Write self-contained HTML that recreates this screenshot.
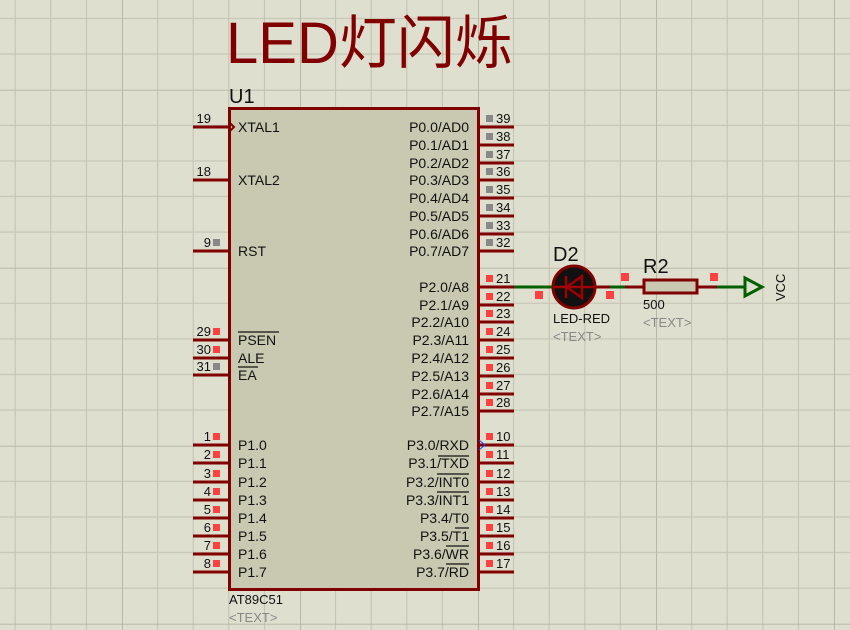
<!DOCTYPE html>
<html><head><meta charset="utf-8"><style>
html,body{margin:0;padding:0;background:#dfdfd0;}
svg{display:block;font-family:"Liberation Sans","Noto Sans CJK SC",sans-serif;}
.l{font-size:14px;fill:#111;}
.n{font-size:13px;fill:#111;}
.g{font-size:13px;fill:#888;}
</style></head><body>
<svg width="850" height="630" viewBox="0 0 850 630" xmlns="http://www.w3.org/2000/svg">
<defs>
<pattern id="gr" patternUnits="userSpaceOnUse" x="-56" y="-88.3" width="178" height="178">
<rect width="178" height="178" fill="#dfdfd0"/>
<g stroke="#c2c2b2" stroke-width="1">
<line x1="35.6" y1="0" x2="35.6" y2="178"/><line x1="71.2" y1="0" x2="71.2" y2="178"/><line x1="106.8" y1="0" x2="106.8" y2="178"/><line x1="142.4" y1="0" x2="142.4" y2="178"/>
<line y1="35.6" x1="0" y2="35.6" x2="178"/><line y1="71.2" x1="0" y2="71.2" x2="178"/><line y1="106.8" x1="0" y2="106.8" x2="178"/><line y1="142.4" x1="0" y2="142.4" x2="178"/>
</g>
<g stroke="#b8b8a6" stroke-width="2"><line x1="0" y1="0" x2="0" y2="178"/><line x1="0" y1="0" x2="178" y2="0"/></g>
</pattern>
</defs>
<rect width="850" height="630" fill="url(#gr)"/>

<text x="226" y="63" font-size="58" fill="#800000">LED灯闪烁</text>
<text x="229" y="103" font-size="20" fill="#111">U1</text>

<rect x="229.5" y="108.5" width="249" height="481" fill="#c9c9b2" stroke="#800000" stroke-width="3"/>

<g stroke="#800000" stroke-width="3">
<!-- left pins -->
<line x1="193" y1="127" x2="229" y2="127"/><line x1="193" y1="180" x2="229" y2="180"/><line x1="193" y1="251" x2="229" y2="251"/>
<line x1="193" y1="340" x2="229" y2="340"/><line x1="193" y1="358" x2="229" y2="358"/><line x1="193" y1="375" x2="229" y2="375"/>
<line x1="193" y1="445" x2="229" y2="445"/><line x1="193" y1="463" x2="229" y2="463"/><line x1="193" y1="482" x2="229" y2="482"/><line x1="193" y1="500" x2="229" y2="500"/><line x1="193" y1="518" x2="229" y2="518"/><line x1="193" y1="536" x2="229" y2="536"/><line x1="193" y1="554" x2="229" y2="554"/><line x1="193" y1="572" x2="229" y2="572"/>
<!-- right pins -->
<line x1="478" y1="127" x2="514" y2="127"/><line x1="478" y1="145" x2="514" y2="145"/><line x1="478" y1="163" x2="514" y2="163"/><line x1="478" y1="180" x2="514" y2="180"/><line x1="478" y1="198" x2="514" y2="198"/><line x1="478" y1="216" x2="514" y2="216"/><line x1="478" y1="234" x2="514" y2="234"/><line x1="478" y1="251" x2="514" y2="251"/>
<line x1="478" y1="287" x2="514" y2="287"/><line x1="478" y1="305" x2="514" y2="305"/><line x1="478" y1="322" x2="514" y2="322"/><line x1="478" y1="340" x2="514" y2="340"/><line x1="478" y1="358" x2="514" y2="358"/><line x1="478" y1="376" x2="514" y2="376"/><line x1="478" y1="394" x2="514" y2="394"/><line x1="478" y1="411" x2="514" y2="411"/>
<line x1="478" y1="445" x2="514" y2="445"/><line x1="478" y1="463" x2="514" y2="463"/><line x1="478" y1="482" x2="514" y2="482"/><line x1="478" y1="500" x2="514" y2="500"/><line x1="478" y1="518" x2="514" y2="518"/><line x1="478" y1="536" x2="514" y2="536"/><line x1="478" y1="554" x2="514" y2="554"/><line x1="478" y1="572" x2="514" y2="572"/>
</g>
<path d="M229 122 L234 127 L229 132" fill="none" stroke="#800000" stroke-width="2"/>
<path d="M479 440 L485 445 L479 450" fill="none" stroke="#2040ff" stroke-width="1"/>

<!-- left labels -->
<g class="l">
<text x="238" y="132">XTAL1</text><text x="238" y="185">XTAL2</text><text x="238" y="256">RST</text>
<text x="238" y="345">PSEN</text><text x="238" y="363">ALE</text><text x="238" y="380">EA</text>
<text x="238" y="450">P1.0</text><text x="238" y="468">P1.1</text><text x="238" y="487">P1.2</text><text x="238" y="505">P1.3</text><text x="238" y="523">P1.4</text><text x="238" y="541">P1.5</text><text x="238" y="559">P1.6</text><text x="238" y="577">P1.7</text>
</g>
<g stroke="#111" stroke-width="1.2"><line x1="238" y1="332" x2="279" y2="332"/><line x1="238" y1="367" x2="258" y2="367"/></g>

<!-- right labels -->
<g class="l" text-anchor="end">
<text x="469" y="132">P0.0/AD0</text><text x="469" y="150">P0.1/AD1</text><text x="469" y="168">P0.2/AD2</text><text x="469" y="185">P0.3/AD3</text><text x="469" y="203">P0.4/AD4</text><text x="469" y="221">P0.5/AD5</text><text x="469" y="239">P0.6/AD6</text><text x="469" y="256">P0.7/AD7</text>
<text x="469" y="292">P2.0/A8</text><text x="469" y="310">P2.1/A9</text><text x="469" y="327">P2.2/A10</text><text x="469" y="345">P2.3/A11</text><text x="469" y="363">P2.4/A12</text><text x="469" y="381">P2.5/A13</text><text x="469" y="399">P2.6/A14</text><text x="469" y="416">P2.7/A15</text>
<text x="469" y="450">P3.0/RXD</text><text x="469" y="468">P3.1/TXD</text><text x="469" y="487">P3.2/INT0</text><text x="469" y="505">P3.3/INT1</text><text x="469" y="523">P3.4/T0</text><text x="469" y="541">P3.5/T1</text><text x="469" y="559">P3.6/WR</text><text x="469" y="577">P3.7/RD</text>
</g>
<g stroke="#111" stroke-width="1.2">
<line x1="438" y1="456" x2="469" y2="456"/><line x1="437" y1="474" x2="469" y2="474"/><line x1="437" y1="492" x2="469" y2="492"/><line x1="455" y1="528" x2="469" y2="528"/><line x1="446" y1="546" x2="469" y2="546"/><line x1="446" y1="564" x2="469" y2="564"/>
</g>

<!-- left pin numbers -->
<g class="n" text-anchor="end">
<text x="211" y="123">19</text><text x="211" y="176">18</text><text x="211" y="247">9</text>
<text x="211" y="336">29</text><text x="211" y="354">30</text><text x="211" y="371">31</text>
<text x="211" y="441">1</text><text x="211" y="459">2</text><text x="211" y="478">3</text><text x="211" y="496">4</text><text x="211" y="514">5</text><text x="211" y="532">6</text><text x="211" y="550">7</text><text x="211" y="568">8</text>
</g>
<g fill="#888"><rect x="213" y="239" width="7" height="7"/><rect x="213" y="363" width="7" height="7"/></g>
<g fill="#ff4040">
<rect x="213" y="328" width="7" height="7"/><rect x="213" y="346" width="7" height="7"/>
<rect x="213" y="433" width="7" height="7"/><rect x="213" y="451" width="7" height="7"/><rect x="213" y="470" width="7" height="7"/><rect x="213" y="488" width="7" height="7"/><rect x="213" y="506" width="7" height="7"/><rect x="213" y="524" width="7" height="7"/><rect x="213" y="542" width="7" height="7"/><rect x="213" y="560" width="7" height="7"/>
</g>

<!-- right pin numbers -->
<g class="n">
<text x="496" y="123">39</text><text x="496" y="141">38</text><text x="496" y="159">37</text><text x="496" y="176">36</text><text x="496" y="194">35</text><text x="496" y="212">34</text><text x="496" y="230">33</text><text x="496" y="247">32</text>
<text x="496" y="283">21</text><text x="496" y="301">22</text><text x="496" y="318">23</text><text x="496" y="336">24</text><text x="496" y="354">25</text><text x="496" y="372">26</text><text x="496" y="390">27</text><text x="496" y="407">28</text>
<text x="496" y="441">10</text><text x="496" y="459">11</text><text x="496" y="478">12</text><text x="496" y="496">13</text><text x="496" y="514">14</text><text x="496" y="532">15</text><text x="496" y="550">16</text><text x="496" y="568">17</text>
</g>
<g fill="#888">
<rect x="486" y="115" width="7" height="7"/><rect x="486" y="133" width="7" height="7"/><rect x="486" y="151" width="7" height="7"/><rect x="486" y="168" width="7" height="7"/><rect x="486" y="186" width="7" height="7"/><rect x="486" y="204" width="7" height="7"/><rect x="486" y="222" width="7" height="7"/><rect x="486" y="239" width="7" height="7"/>
</g>
<g fill="#ff4040">
<rect x="486" y="275" width="7" height="7"/><rect x="486" y="293" width="7" height="7"/><rect x="486" y="310" width="7" height="7"/><rect x="486" y="328" width="7" height="7"/><rect x="486" y="346" width="7" height="7"/><rect x="486" y="364" width="7" height="7"/><rect x="486" y="382" width="7" height="7"/><rect x="486" y="399" width="7" height="7"/>
<rect x="486" y="433" width="7" height="7"/><rect x="486" y="451" width="7" height="7"/><rect x="486" y="470" width="7" height="7"/><rect x="486" y="488" width="7" height="7"/><rect x="486" y="506" width="7" height="7"/><rect x="486" y="524" width="7" height="7"/><rect x="486" y="542" width="7" height="7"/><rect x="486" y="560" width="7" height="7"/>
</g>

<!-- circuit -->
<g stroke-width="3" fill="none">
<line x1="514" y1="287" x2="553" y2="287" stroke="#006000"/>
<line x1="596" y1="287" x2="610" y2="287" stroke="#800000"/>
<line x1="610" y1="287" x2="625" y2="287" stroke="#006000"/>
<line x1="625" y1="287" x2="643" y2="287" stroke="#800000"/>
<line x1="698" y1="287" x2="717" y2="287" stroke="#800000"/>
<line x1="717" y1="287" x2="745" y2="287" stroke="#006000"/>
<path d="M745 278 L762 287 L745 296 Z" stroke="#006000"/>
</g>
<circle cx="574" cy="287" r="21" fill="#111" stroke="#800000" stroke-width="3"/>
<g stroke="#a00000" stroke-width="2.5" fill="none">
<line x1="553" y1="287" x2="595" y2="287"/>
<path d="M582 276 L582 298 L567 287 Z"/>
<line x1="566" y1="276" x2="566" y2="298"/>
</g>
<rect x="644" y="280" width="53" height="13" fill="#c9c9b2" stroke="#800000" stroke-width="3"/>
<g fill="#ff4040">
<rect x="535" y="291" width="8" height="8"/><rect x="606" y="291" width="8" height="8"/><rect x="621" y="273" width="8" height="8"/><rect x="710" y="273" width="8" height="8"/>
</g>
<text x="553" y="261" font-size="20" fill="#111">D2</text>
<text x="553" y="323" class="n">LED-RED</text>
<text x="553" y="341" class="g">&lt;TEXT&gt;</text>
<text x="643" y="273" font-size="20" fill="#111">R2</text>
<text x="643" y="309" class="n">500</text>
<text x="643" y="327" class="g">&lt;TEXT&gt;</text>
<text x="0" y="0" class="n" transform="translate(785 301) rotate(-90)">VCC</text>

<text x="229" y="604" class="n">AT89C51</text>
<text x="229" y="622" class="g">&lt;TEXT&gt;</text>
</svg>
</body></html>
